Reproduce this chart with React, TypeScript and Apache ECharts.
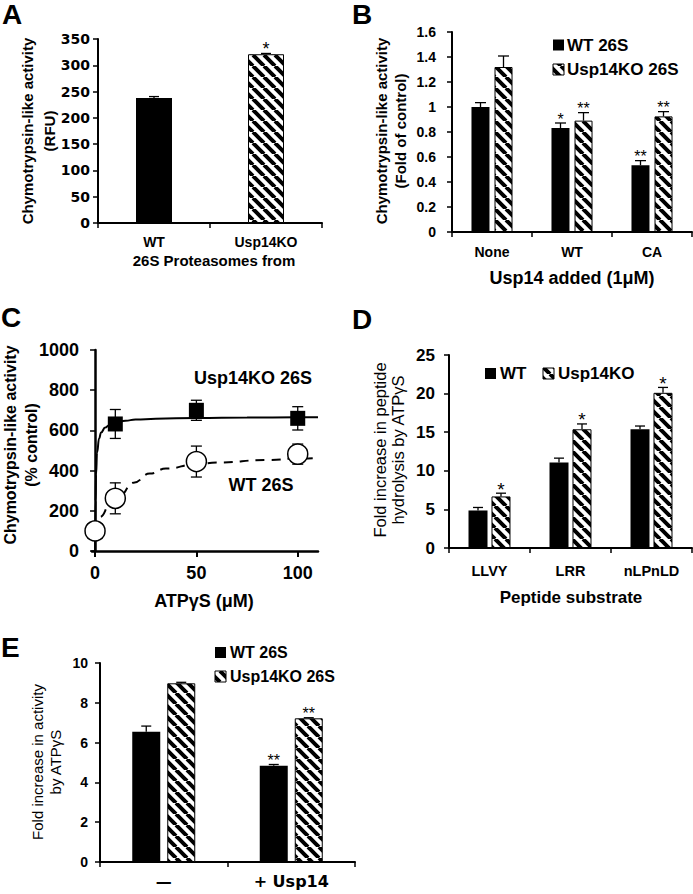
import React, { useEffect, useRef } from "react";
import * as echarts from "echarts";

// ---------- Panel A ----------
const aCategories = ["WT", "Usp14KO"];
const aValues = [238, 321];
const aErrors = [2.5, 1.5];
const aStars = ["", "*"];

// ---------- Panel B ----------
const bCategories = ["None", "WT", "CA"];
const bSeriesNames = ["WT 26S", "Usp14KO 26S"];
const bWT = [1.0, 0.832, 0.534];
const bWTErr = [0.035, 0.04, 0.037];
const bKO = [1.32, 0.891, 0.925];
const bKOErr = [0.088, 0.064, 0.038];
const bWTStars = ["", "*", "**"];
const bKOStars = ["", "**", "**"];

// ---------- Panel C ----------
const cDoses = [0, 10, 50, 100];
const cKO = [100, 632, 700, 660];
const cKOErr = [0, 72, 50, 58];
const cWT = [100, 262, 445, 482];
const cWTErr = [0, 77, 77, 50];
const cXTicks = [0, 50, 100];
const cKOFitX = [0, 0.25, 0.5, 1, 2, 3, 5, 7, 10, 15, 20, 30, 50, 75, 100, 110];
const cKOFitY = [0, 250, 380, 490, 560, 590, 614, 626, 638, 648, 654, 658, 662, 664, 665, 666];
const cWTFitX = [0, 2.5, 7.5, 12, 19, 27, 35, 50, 60, 85, 100, 110];
const cWTFitY = [100, 170, 230, 275, 340, 385, 410, 432, 440, 453, 460, 463];

// ---------- Panel D ----------
const dCategories = ["LLVY", "LRR", "nLPnLD"];
const dSeriesNames = ["WT", "Usp14KO"];
const dWT = [4.86, 11.07, 15.38];
const dWTErr = [0.39, 0.57, 0.42];
const dKO = [6.68, 15.38, 20.1];
const dKOErr = [0.42, 0.69, 0.7];
const dKOStars = ["*", "*", "*"];

// ---------- Panel E ----------
const eCategories = ["—", "+ Usp14"];
const eSeriesNames = ["WT 26S", "Usp14KO 26S"];
const eWT = [6.55, 4.84];
const eWTErr = [0.28, 0.06];
const eKO = [8.98, 7.22];
const eKOErr = [0.05, 0.03];
const eWTStars = ["", "**"];
const eKOStars = ["", "**"];

const FONT = "'Liberation Sans', Arial, sans-serif";

function makeHatch(size: number, lw: number): string {
  const c = document.createElement("canvas");
  c.width = size;
  c.height = size;
  const ctx = c.getContext("2d")!;
  ctx.fillStyle = "#fff";
  ctx.fillRect(0, 0, size, size);
  ctx.strokeStyle = "#000";
  ctx.lineWidth = lw;
  ctx.beginPath();
  for (const o of [-size, 0, size]) {
    ctx.moveTo(o, 0);
    ctx.lineTo(o + size, size);
  }
  ctx.stroke();
  return c.toDataURL();
}

function errBars(
  axis: number,
  values: number[],
  errs: number[],
  offset: number,
  cap: number,
  stars: string[] | null,
  starSize: number,
  both: boolean,
  xs?: number[]
) {
  return {
    type: "custom",
    xAxisIndex: axis,
    yAxisIndex: axis,
    z: 5,
    silent: true,
    data: values.map((v, i) => [xs ? xs[i] : i, v, errs[i]]),
    renderItem: (params: any, api: any) => {
      const x0 = api.value(0);
      const v = api.value(1);
      const e = api.value(2);
      const c = api.coord([x0, v]);
      const t = api.coord([x0, v + e]);
      const b = api.coord([x0, v - e]);
      const x = c[0] + offset;
      const st = { stroke: "#000", lineWidth: 1.3 };
      const children: any[] = [];
      if (e > 0) {
        children.push({ type: "line", shape: { x1: x, y1: both ? b[1] : c[1], x2: x, y2: t[1] }, style: st });
        children.push({ type: "line", shape: { x1: x - cap / 2, y1: t[1], x2: x + cap / 2, y2: t[1] }, style: st });
        if (both) {
          children.push({ type: "line", shape: { x1: x - cap / 2, y1: b[1], x2: x + cap / 2, y2: b[1] }, style: st });
        }
      }
      const s = stars ? stars[params.dataIndex] : "";
      if (s) {
        children.push({
          type: "text",
          x,
          y: t[1] - 4,
          style: {
            text: s,
            align: "center",
            verticalAlign: "middle",
            fontSize: starSize,
            fontFamily: FONT,
            fill: "#000",
          },
        });
      }
      return { type: "group", children };
    },
  };
}

function catX(grid: number, cats: string[], fontSize: number, margin: number, extra: any = {}) {
  return {
    type: "category",
    gridIndex: grid,
    data: cats,
    axisLine: { show: true, onZero: false, lineStyle: { color: "#000", width: 2 } },
    axisTick: { show: true, length: 5, lineStyle: { color: "#000", width: 1.5 } },
    axisLabel: { fontSize, fontWeight: "bold", color: "#000", fontFamily: FONT, margin, interval: 0, ...extra },
    splitLine: { show: false },
  };
}

function valY(grid: number, min: number, max: number, interval: number, fontSize: number, margin: number, lw = 2, extra: any = {}) {
  return {
    type: "value",
    gridIndex: grid,
    min,
    max,
    interval,
    axisLine: { show: true, lineStyle: { color: "#000", width: lw } },
    axisTick: { show: true, length: 5, lineStyle: { color: "#000", width: 1.5 } },
    axisLabel: {
      fontSize,
      fontWeight: "bold",
      color: "#000",
      fontFamily: FONT,
      margin,
      formatter: (v: number) => String(Math.round(v * 1000) / 1000),
      ...extra,
    },
    splitLine: { show: false },
  };
}

function txt(x: number, y: number, text: string, size: number, opts: any = {}) {
  const { weight = "bold", align = "center", rotate = 0, lineHeight, family = FONT } = opts;
  return {
    type: "text",
    x,
    y,
    rotation: rotate,
    silent: true,
    style: {
      text,
      fontSize: size,
      fontWeight: weight,
      fontFamily: family,
      fill: "#000",
      align,
      verticalAlign: "middle",
      lineHeight: lineHeight || Math.round(size * 1.2),
    },
  };
}

function swatch(x: number, y: number, size: number, fill: any, hatched: boolean) {
  return {
    type: "rect",
    silent: true,
    shape: { x, y, width: size, height: size },
    style: { fill, stroke: hatched ? "#000" : null, lineWidth: hatched ? 1 : 0 },
  };
}

export default function App() {
  const ref = useRef<HTMLDivElement>(null);

  useEffect(() => {
    const chart = echarts.init(ref.current!, null, { renderer: "svg" });
    const hatchSrc = makeHatch(11, 4);
    const hatch: any = { image: hatchSrc, repeat: "repeat", imageWidth: 11, imageHeight: 11 };
    const koStyle = { color: hatch, borderColor: "#000", borderWidth: 1 };
    const wtStyle = { color: "#000" };

    const option: any = {
      animation: false,
      backgroundColor: "#fff",
      grid: [
        { left: 98, top: 39, width: 224, height: 184 },
        { left: 452, top: 32, width: 240, height: 200 },
        { left: 92, top: 350, width: 226, height: 201 },
        { left: 449, top: 355, width: 243, height: 193 },
        { left: 100, top: 663, width: 255, height: 199 },
      ],
      xAxis: [
        catX(0, aCategories, 14, 12),
        catX(1, bCategories, 14, 13),
        {
          type: "value",
          gridIndex: 2,
          min: -1.5,
          max: 110,
          axisLine: { show: true, onZero: false, lineStyle: { color: "#000", width: 2.5 } },
          axisTick: { show: true, length: 6, customValues: cXTicks, lineStyle: { color: "#000", width: 2 } },
          axisLabel: { fontSize: 18, fontWeight: "bold", color: "#000", fontFamily: FONT, margin: 13, customValues: cXTicks },
          splitLine: { show: false },
        },
        catX(3, dCategories, 14.5, 15),
        catX(4, eCategories, 16, 11, { fontFamily: "'DejaVu Sans', sans-serif" }),
      ],
      yAxis: [
        valY(0, 0, 350, 50, 14, 8, 2, { fontFamily: "'DejaVu Sans', sans-serif", fontSize: 14 }),
        valY(1, 0, 1.6, 0.2, 14, 16),
        valY(2, 0, 1000, 200, 18, 13, 2.5),
        valY(3, 0, 25, 5, 17, 14),
        valY(4, 0, 10, 2, 14, 12),
      ],
      series: [
        // A
        {
          type: "bar",
          xAxisIndex: 0,
          yAxisIndex: 0,
          barWidth: 36,
          data: aValues.map((v, i) => ({ value: v, itemStyle: i === 0 ? wtStyle : koStyle })),
        },
        errBars(0, aValues, aErrors, 0, 10, aStars, 18, false),
        // B
        { type: "bar", name: bSeriesNames[0], xAxisIndex: 1, yAxisIndex: 1, barWidth: 18, barGap: "28%", data: bWT, itemStyle: wtStyle },
        { type: "bar", name: bSeriesNames[1], xAxisIndex: 1, yAxisIndex: 1, barWidth: 18, barGap: "28%", data: bKO, itemStyle: koStyle },
        errBars(1, bWT, bWTErr, -11.5, 11, bWTStars, 16, false),
        errBars(1, bKO, bKOErr, 11.5, 11, bKOStars, 16, false),
        // C
        {
          type: "line",
          xAxisIndex: 2,
          yAxisIndex: 2,
          data: cKOFitX.map((x, i) => [x, cKOFitY[i]]),
          smooth: true,
          smoothMonotone: "x",
          showSymbol: false,
          lineStyle: { color: "#000", width: 2 },
          z: 2,
        },
        {
          type: "line",
          xAxisIndex: 2,
          yAxisIndex: 2,
          data: cWTFitX.map((x, i) => [x, cWTFitY[i]]),
          smooth: true,
          smoothMonotone: "x",
          showSymbol: false,
          lineStyle: { color: "#000", width: 2, type: [9, 7] },
          z: 2,
        },
        errBars(2, cKO, cKOErr, 0, 11, null, 0, true, cDoses),
        errBars(2, cWT, cWTErr, 0, 11, null, 0, true, cDoses),
        {
          type: "scatter",
          xAxisIndex: 2,
          yAxisIndex: 2,
          data: cDoses.map((x, i) => [x, cKO[i]]),
          symbol: "rect",
          symbolSize: 15,
          itemStyle: { color: "#000", opacity: 1 },
          z: 6,
        },
        {
          type: "scatter",
          xAxisIndex: 2,
          yAxisIndex: 2,
          data: cDoses.map((x, i) => [x, cWT[i]]),
          symbol: "circle",
          symbolSize: 20,
          itemStyle: { color: "#fff", borderColor: "#000", borderWidth: 1.5, opacity: 1 },
          z: 7,
        },
        // D
        { type: "bar", name: dSeriesNames[0], xAxisIndex: 3, yAxisIndex: 3, barWidth: 19, barGap: "21%", data: dWT, itemStyle: wtStyle },
        { type: "bar", name: dSeriesNames[1], xAxisIndex: 3, yAxisIndex: 3, barWidth: 19, barGap: "21%", data: dKO, itemStyle: koStyle },
        errBars(3, dWT, dWTErr, -11.5, 10, null, 0, false),
        errBars(3, dKO, dKOErr, 11.5, 10, dKOStars, 19, false),
        // E
        { type: "bar", name: eSeriesNames[0], xAxisIndex: 4, yAxisIndex: 4, barWidth: 28, barGap: "25%", data: eWT, itemStyle: wtStyle },
        { type: "bar", name: eSeriesNames[1], xAxisIndex: 4, yAxisIndex: 4, barWidth: 28, barGap: "25%", data: eKO, itemStyle: koStyle },
        errBars(4, eWT, eWTErr, -17.5, 10, eWTStars, 16, false),
        errBars(4, eKO, eKOErr, 17.5, 10, eKOStars, 16, false),
      ],
      graphic: {
        elements: [
          // panel letters
          txt(2, 14, "A", 28, { align: "left", lineHeight: 28 }),
          txt(352, 14, "B", 28, { align: "left", lineHeight: 28 }),
          txt(1, 317, "C", 28, { align: "left", lineHeight: 28 }),
          txt(352, 319, "D", 28, { align: "left", lineHeight: 28 }),
          txt(1, 647, "E", 28, { align: "left", lineHeight: 28 }),
          // Panel A titles
          txt(38, 131, "Chymotrypsin-like activity\n(RFU)", 15, { rotate: Math.PI / 2, lineHeight: 22 }),
          txt(214, 260, "26S Proteasomes from", 15),
          // Panel B
          txt(391, 131, "Chymotrypsin-like activity\n(Fold of control)", 15, { rotate: Math.PI / 2, lineHeight: 19 }),
          txt(572, 278, "Usp14 added (1μM)", 18),
          swatch(553, 39.5, 11, "#000", false),
          txt(567, 45, bSeriesNames[0], 17, { align: "left" }),
          swatch(553, 64, 11, hatch, true),
          txt(567, 69.5, bSeriesNames[1], 17, { align: "left" }),
          // Panel C
          txt(21, 445, "Chymotrypsin-like activity\n(% control)", 16, { rotate: Math.PI / 2, lineHeight: 21 }),
          txt(204, 601, "ATPγS (μM)", 18),
          txt(253, 378, "Usp14KO 26S", 18),
          txt(261, 485, "WT 26S", 18),
          // Panel D
          txt(389, 450, "Fold increase in peptide\nhydrolysis by ATPγS", 16.5, { rotate: Math.PI / 2, lineHeight: 18, weight: "normal" }),
          txt(571, 597, "Peptide substrate", 17),
          swatch(485, 368, 11, "#000", false),
          txt(500, 373, dSeriesNames[0], 17, { align: "left" }),
          swatch(543, 368, 11, hatch, true),
          txt(558, 373, dSeriesNames[1], 17, { align: "left" }),
          // Panel E
          txt(46, 762, "Fold increase in activity\nby ATPγS", 15, { rotate: Math.PI / 2, lineHeight: 18, weight: "normal" }),
          swatch(215, 647, 11, "#000", false),
          txt(230, 652.5, eSeriesNames[0], 16, { align: "left" }),
          swatch(215, 671, 11, hatch, true),
          txt(230, 676.5, eSeriesNames[1], 16, { align: "left" }),
        ],
      },
    };

    chart.setOption(option);
    return () => chart.dispose();
  }, []);

  return (
    <div
      ref={ref}
      style={{ position: "absolute", left: 0, top: 0, width: 693, height: 894, background: "#fff" }}
    />
  );
}
